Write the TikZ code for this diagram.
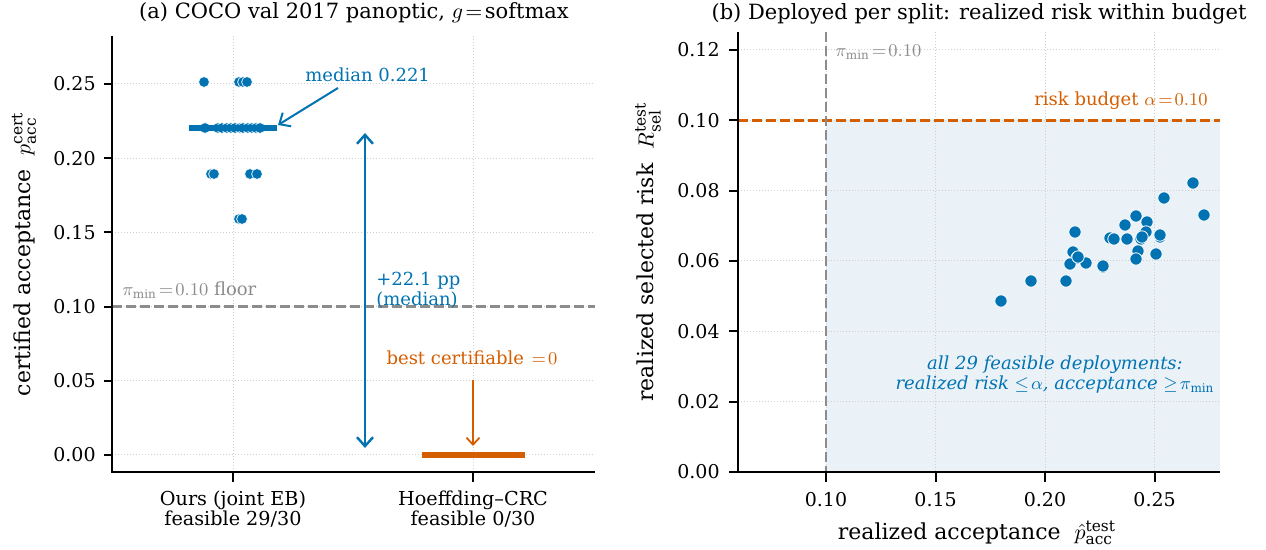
\documentclass[tikz,border=0pt]{standalone}
\usepackage{fontspec}
\setmainfont{DejaVu Serif}
\usetikzlibrary{arrows.meta}
\definecolor{cblue}{HTML}{0173B2}
\definecolor{corange}{HTML}{D55E00}
\definecolor{cgray}{HTML}{8C8C8C}
\definecolor{gridc}{HTML}{CFCFCF}
\definecolor{shadec}{HTML}{EAF2F8}
\newcommand\ttlsz{\fontsize{10.5}{12}\selectfont}
\newcommand\ticksz{\fontsize{9.5}{10}\selectfont}
\newcommand\labsz{\fontsize{11}{12}\selectfont}
\newcommand\catsz{\fontsize{9.6}{10}\selectfont}
\newcommand\annsz{\fontsize{9}{10}\selectfont}
\newcommand\eq{\mskip2mu{=}\mskip2mu}
\begin{document}
\begin{tikzpicture}[x=0.5pt,y=-0.5pt,
  spine/.style={line width=1pt},
  tickmark/.style={line width=1pt},
  gridl/.style={gridc, line width=0.5pt, dash pattern=on 0.5pt off 1pt},
  refl/.style={line width=1.35pt, dash pattern=on 4.8pt off 2.2pt},
  ldot/.style={fill=cblue, draw=white, line width=0.35pt},
  rdot/.style={fill=cblue, draw=white, line width=0.4pt},
  ticklab/.style={font=\ticksz, inner sep=0pt},
  barb/.style={-{Straight Barb[length=4.5pt,width=8pt]}},
  dbarb/.style={{Straight Barb[length=4.5pt,width=8pt]}-{Straight Barb[length=4.5pt,width=8pt]}}
]
\useasboundingbox (0,0) rectangle (1266,550);
\fill[white] (0,0) rectangle (1266,550);

% ================= Panel (a) =================
\node[font=\ttlsz] (titleA) at (354,13) {(a) COCO val 2017 panoptic, $g\eq$softmax};
\foreach \yy in {455,380.8,306.6,232.4,158.2,84}
  \draw[gridl] (112,\yy) -- (595,\yy);
\foreach \xx in {233,473}
  \draw[gridl] (\xx,36) -- (\xx,472);
\draw[refl, cgray] (112,306.6) -- (595,306.6);
\node[font=\annsz, text=cgray, anchor=west, inner sep=0pt] (floorlab) at (122,290) {$\pi_{\min}\eq0.10$ floor};

% points
\foreach \xx in {204,239,243,247} \path[ldot] (\xx,82) circle[radius=2.7pt];
\foreach \xx in {211,214,250,257} \path[ldot] (\xx,174) circle[radius=2.7pt];
\foreach \xx in {239,242} \path[ldot] (\xx,219) circle[radius=2.7pt];
\foreach \xx in {205,218,222,227,231,235,240,243,248,252,256,260} \path[ldot] (\xx,128) circle[radius=2.7pt];
\coordinate (medL) at (189,128);
\coordinate (medR) at (277,128);
\draw[cblue, line width=2.6pt] (medL) -- (medR);
\coordinate (hoL) at (422,455);
\coordinate (hoR) at (525,455);
\draw[corange, line width=3pt] (hoL) -- (hoR);

% annotations
\node[font=\annsz, text=cblue, anchor=west, inner sep=0pt] (medlab) at (305,75) {median 0.221};
\coordinate (medtail) at (338,88);
\coordinate (medtip) at (278,125);
\draw[cblue, line width=1pt, barb] (medtail) -- (medtip);

\coordinate (gapTop) at (365,133);
\coordinate (gapBot) at (365,448);
\draw[cblue, line width=1.2pt, dbarb] (gapTop) -- (gapBot);
\node[font=\annsz, text=cblue, anchor=west, align=left, inner sep=0pt] (gaplab) at (376,290) {+22.1 pp\\(median)};

\node[font=\annsz, text=corange, inner sep=0pt] (bestlab) at (472,358) {best certifiable $\eq0$};
\coordinate (besttail) at (473,380);
\coordinate (besttip) at (473,446);
\draw[corange, line width=0.9pt, -{Straight Barb[length=3.5pt,width=6.5pt]}] (besttail) -- (besttip);

% spines and ticks
\draw[spine] (112,36) -- (112,472.5) -- (595,472.5);
\foreach \yy/\lab [count=\i] in {455/0.00,380.8/0.05,306.6/0.10,232.4/0.15,158.2/0.20,84/0.25}{
  \draw[tickmark] (104,\yy) -- (112,\yy);
  \node[ticklab, anchor=east] (la\i) at (96,\yy) {\lab};
}
\draw[tickmark] (233,472.5) -- (233,482);
\draw[tickmark] (473,472.5) -- (473,482);
\node[font=\catsz, align=center, inner sep=0pt] (catA) at (233,509) {Ours (joint EB)\\feasible 29/30};
\node[font=\catsz, align=center, inner sep=0pt] (catB) at (473,509) {Hoeffding–CRC\\feasible 0/30};
\node[font=\labsz, rotate=90, inner sep=0pt] (ylabA) at (24,254) {certified acceptance\ \ $p^{\mathrm{cert}}_{\mathrm{acc}}$};

% ================= Panel (b) =================
\node[font=\ttlsz] (titleB) at (979,14) {(b) Deployed per split: realized risk within budget};
\fill[shadec] (826,120.3) rectangle (1220,472);
\foreach \yy in {50,120.3,190.6,261,331.3,401.7}
  \draw[gridl] (738,\yy) -- (1220,\yy);
\foreach \xx in {826,935.6,1045,1154.6}
  \draw[gridl] (\xx,32) -- (\xx,472);
\draw[refl, corange] (738,120.3) -- (1220,120.3);
\draw[refl, cgray] (826,32) -- (826,472);
\node[font=\annsz, text=cgray, anchor=west, inner sep=0pt] (pilab) at (835,52) {$\pi_{\min}\eq0.10$};
\node[font=\annsz, text=corange, anchor=east, inner sep=0pt] (alab) at (1208,101) {risk budget $\alpha\eq0.10$};
\node[font=\annsz\itshape, text=cblue, align=center, inner sep=0pt] (feaslab) at (1055,375)
  {all 29 feasible deployments:\\realized risk $\leq\!\alpha$, acceptance $\geq\!\pi_{\min}$};

\foreach \xx/\yy in {1193/183,1164/198,1204/215,1136/216,1147/222,1125/225,1075/232,
  1110/238,1114/239,1127/239,1141/239,1144/234,1146/232,1160/237,1160/235,
  1073/252,1138/251,1156/254,1077/258,1136/259,1070/264,1086/263,1103/267,
  1066/281,1031/281,1001/301,1142/237,1078/257,1103/266}
  \path[rdot] (\xx,\yy) circle[radius=3.1pt];

\draw[spine] (738,32) -- (738,472.5) -- (1220,472.5);
\foreach \yy/\lab [count=\i] in {472/0.00,401.7/0.02,331.3/0.04,261/0.06,190.6/0.08,120.3/0.10,50/0.12}{
  \draw[tickmark] (729,\yy) -- (738,\yy);
  \node[ticklab, anchor=east] (lb\i) at (720,\yy) {\lab};
}
\foreach \xx/\lab [count=\i] in {826/0.10,935.6/0.15,1045/0.20,1154.6/0.25}{
  \draw[tickmark] (\xx,472.5) -- (\xx,482);
  \node[ticklab, anchor=base] (xb\i) at (\xx,507) {\lab};
}
\node[font=\labsz, inner sep=0pt] (xlabB) at (977,533) {realized acceptance\ \ $\hat{p}^{\mathrm{test}}_{\mathrm{acc}}$};
\node[font=\labsz, rotate=90, inner sep=0pt] (ylabB) at (648,252) {realized selected risk\ \ $R^{\mathrm{test}}_{\mathrm{sel}}$};
\end{tikzpicture}
\end{document}
